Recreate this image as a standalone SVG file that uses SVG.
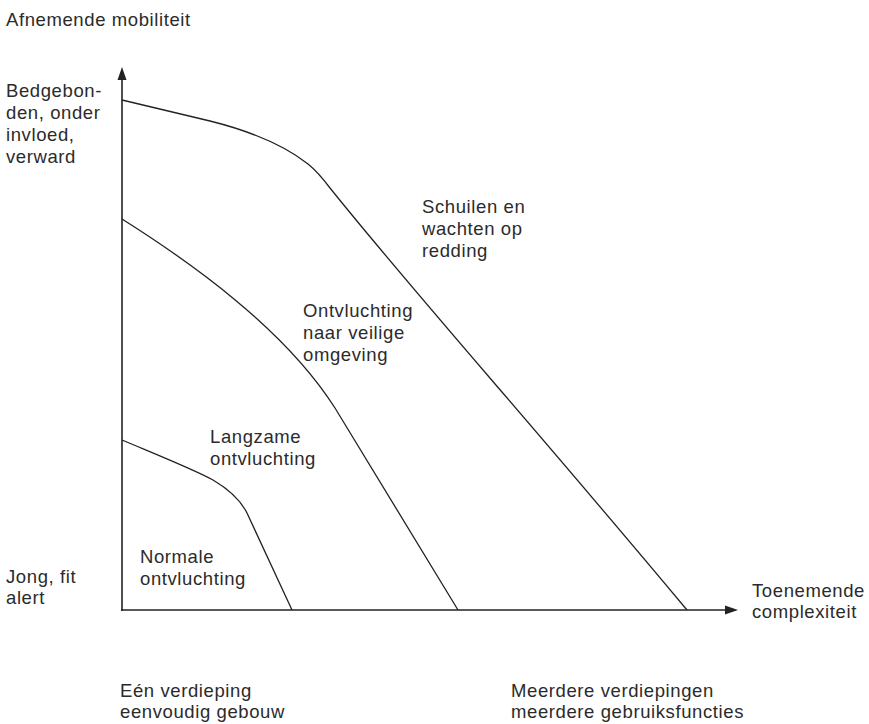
<svg xmlns="http://www.w3.org/2000/svg" width="869" height="724" viewBox="0 0 869 724">
<style>
text{font-family:"Liberation Sans",Arial,sans-serif;font-size:18.5px;letter-spacing:0.6px;fill:#2b2b2b}
.ax{stroke:#222;stroke-width:1.6;fill:none}
.cv{stroke:#222;stroke-width:1.3;fill:none}
.ah{fill:#222}
</style>
<rect width="869" height="724" fill="#fff"/>
<g id="connectors">
<line class="ax" x1="122" y1="611" x2="122" y2="78"/>
<polygon class="ah" points="117.5,80 126.5,80 122,67"/>
<line class="ax" x1="121" y1="610" x2="727" y2="610"/>
<polygon class="ah" points="725,605.5 725,614.5 738,610"/>
<path id="curve-outer" class="cv" d="M122,100 L210,121 C250,131 285,146 308,164 C318,172 324,180 330,188 C420,300 520,410 687,610"/>
<path id="curve-middle" class="cv" d="M122,219 C190,262 284,328 335,408 L458,610"/>
<path id="curve-inner" class="cv" d="M122,440 C160,456 195,470 213,480 C230,490 241,501 247,513 L292,610"/>
</g>
<g id="title"><text x="6" y="26">Afnemende mobiliteit</text></g>
<g id="label-top"><text x="6" y="97">Bedgebon-</text><text x="6" y="119">den, onder</text><text x="6" y="141">invloed,</text><text x="6" y="163">verward</text></g>
<g id="label-bottom"><text x="6" y="583">Jong, fit</text><text x="6" y="604">alert</text></g>
<g id="label-xaxis"><text x="752" y="597">Toenemende</text><text x="752" y="618">complexiteit</text></g>
<g id="zone-schuilen"><text x="422" y="213">Schuilen en</text><text x="422" y="235">wachten op</text><text x="422" y="257">redding</text></g>
<g id="zone-ontvluchting-veilig"><text x="303" y="317">Ontvluchting</text><text x="303" y="339">naar veilige</text><text x="303" y="361">omgeving</text></g>
<g id="zone-langzaam"><text x="210" y="443">Langzame</text><text x="210" y="465">ontvluchting</text></g>
<g id="zone-normaal"><text x="140" y="563">Normale</text><text x="140" y="585">ontvluchting</text></g>
<g id="label-left-bottom"><text x="120" y="697">Eén verdieping</text><text x="120" y="718">eenvoudig gebouw</text></g>
<g id="label-right-bottom"><text x="511" y="697">Meerdere verdiepingen</text><text x="511" y="718">meerdere gebruiksfuncties</text></g>
</svg>
